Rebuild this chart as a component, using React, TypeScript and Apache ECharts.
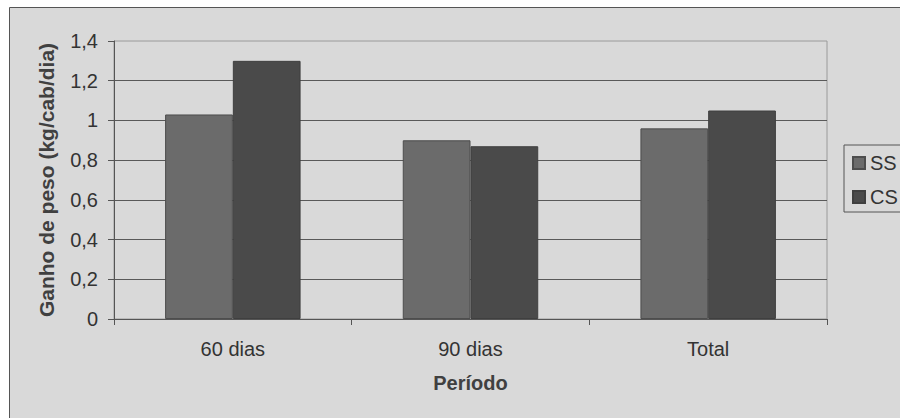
import React, { useEffect, useRef } from "react";
import * as echarts from "echarts";

const categories = ["60 dias", "90 dias", "Total"];
const ssValues = [1.03, 0.9, 0.96];
const csValues = [1.3, 0.87, 1.05];
const yTicks = { min: 0, max: 1.4, interval: 0.2 };

const fontFamily = "'Liberation Sans', Arial, sans-serif";

function formatTick(v: number): string {
  return String(Number(v.toFixed(1))).replace(".", ",");
}

export default function App() {
  const ref = useRef<HTMLDivElement>(null);

  useEffect(() => {
    if (!ref.current) return;
    const chart = echarts.init(ref.current, null, { renderer: "svg" });
    chart.setOption({
      animation: false,
      backgroundColor: "#ffffff",
      textStyle: { fontFamily },
      graphic: [
        {
          type: "rect",
          z: -10,
          silent: true,
          shape: { x: 9.5, y: 7.5, width: 900, height: 420 },
          style: { fill: "#d9d9d9", stroke: "#555555", lineWidth: 1 },
        },
      ],
      grid: {
        left: 114,
        top: 41,
        right: 73,
        bottom: 99,
        show: true,
        backgroundColor: "transparent",
        borderColor: "#9a9a9a",
        borderWidth: 1,
      },
      legend: {
        orient: "vertical",
        left: 844,
        top: 145,
        padding: [8, 8, 5, 8],
        itemWidth: 12,
        itemHeight: 12,
        itemGap: 14,
        borderColor: "#555555",
        borderWidth: 1,
        icon: "rect",
        textStyle: { fontSize: 20, color: "#333333", fontFamily },
        data: ["SS", "CS"],
      },
      xAxis: {
        type: "category",
        data: categories,
        name: "Período",
        nameLocation: "middle",
        nameGap: 54,
        nameTextStyle: { fontSize: 20, fontWeight: "bold", color: "#404040", fontFamily },
        axisLine: { lineStyle: { color: "#555555", width: 1 } },
        axisTick: { show: true, length: 6, inside: false, lineStyle: { color: "#555555" } },
        axisLabel: { fontSize: 20, color: "#333333", margin: 20, fontFamily },
        splitLine: { show: false },
      },
      yAxis: {
        type: "value",
        min: yTicks.min,
        max: yTicks.max,
        interval: yTicks.interval,
        name: "Ganho de peso (kg/cab/dia)",
        nameLocation: "middle",
        nameRotate: 90,
        nameGap: 57,
        nameTextStyle: { fontSize: 21, fontWeight: "bold", color: "#404040", fontFamily },
        axisLine: { show: true, lineStyle: { color: "#555555", width: 1 } },
        axisTick: { show: true, length: 6, inside: false, lineStyle: { color: "#555555" } },
        axisLabel: { fontSize: 20, color: "#333333", margin: 16, fontFamily, formatter: formatTick },
        splitLine: { show: true, showMaxLine: false, lineStyle: { color: "#595959", width: 1 } },
      },
      series: [
        {
          name: "SS",
          type: "bar",
          data: ssValues,
          barGap: "0%",
          barCategoryGap: "43%",
          itemStyle: { color: "#6b6b6b", borderColor: "#4d4d4d", borderWidth: 1 },
        },
        {
          name: "CS",
          type: "bar",
          data: csValues,
          barGap: "0%",
          barCategoryGap: "43%",
          itemStyle: { color: "#4a4a4a", borderColor: "#3f3f3f", borderWidth: 1 },
        },
      ],
    });
    return () => chart.dispose();
  }, []);

  return (
    <div
      ref={ref}
      style={{ position: "fixed", left: 0, top: 0, width: 900, height: 418 }}
    />
  );
}
